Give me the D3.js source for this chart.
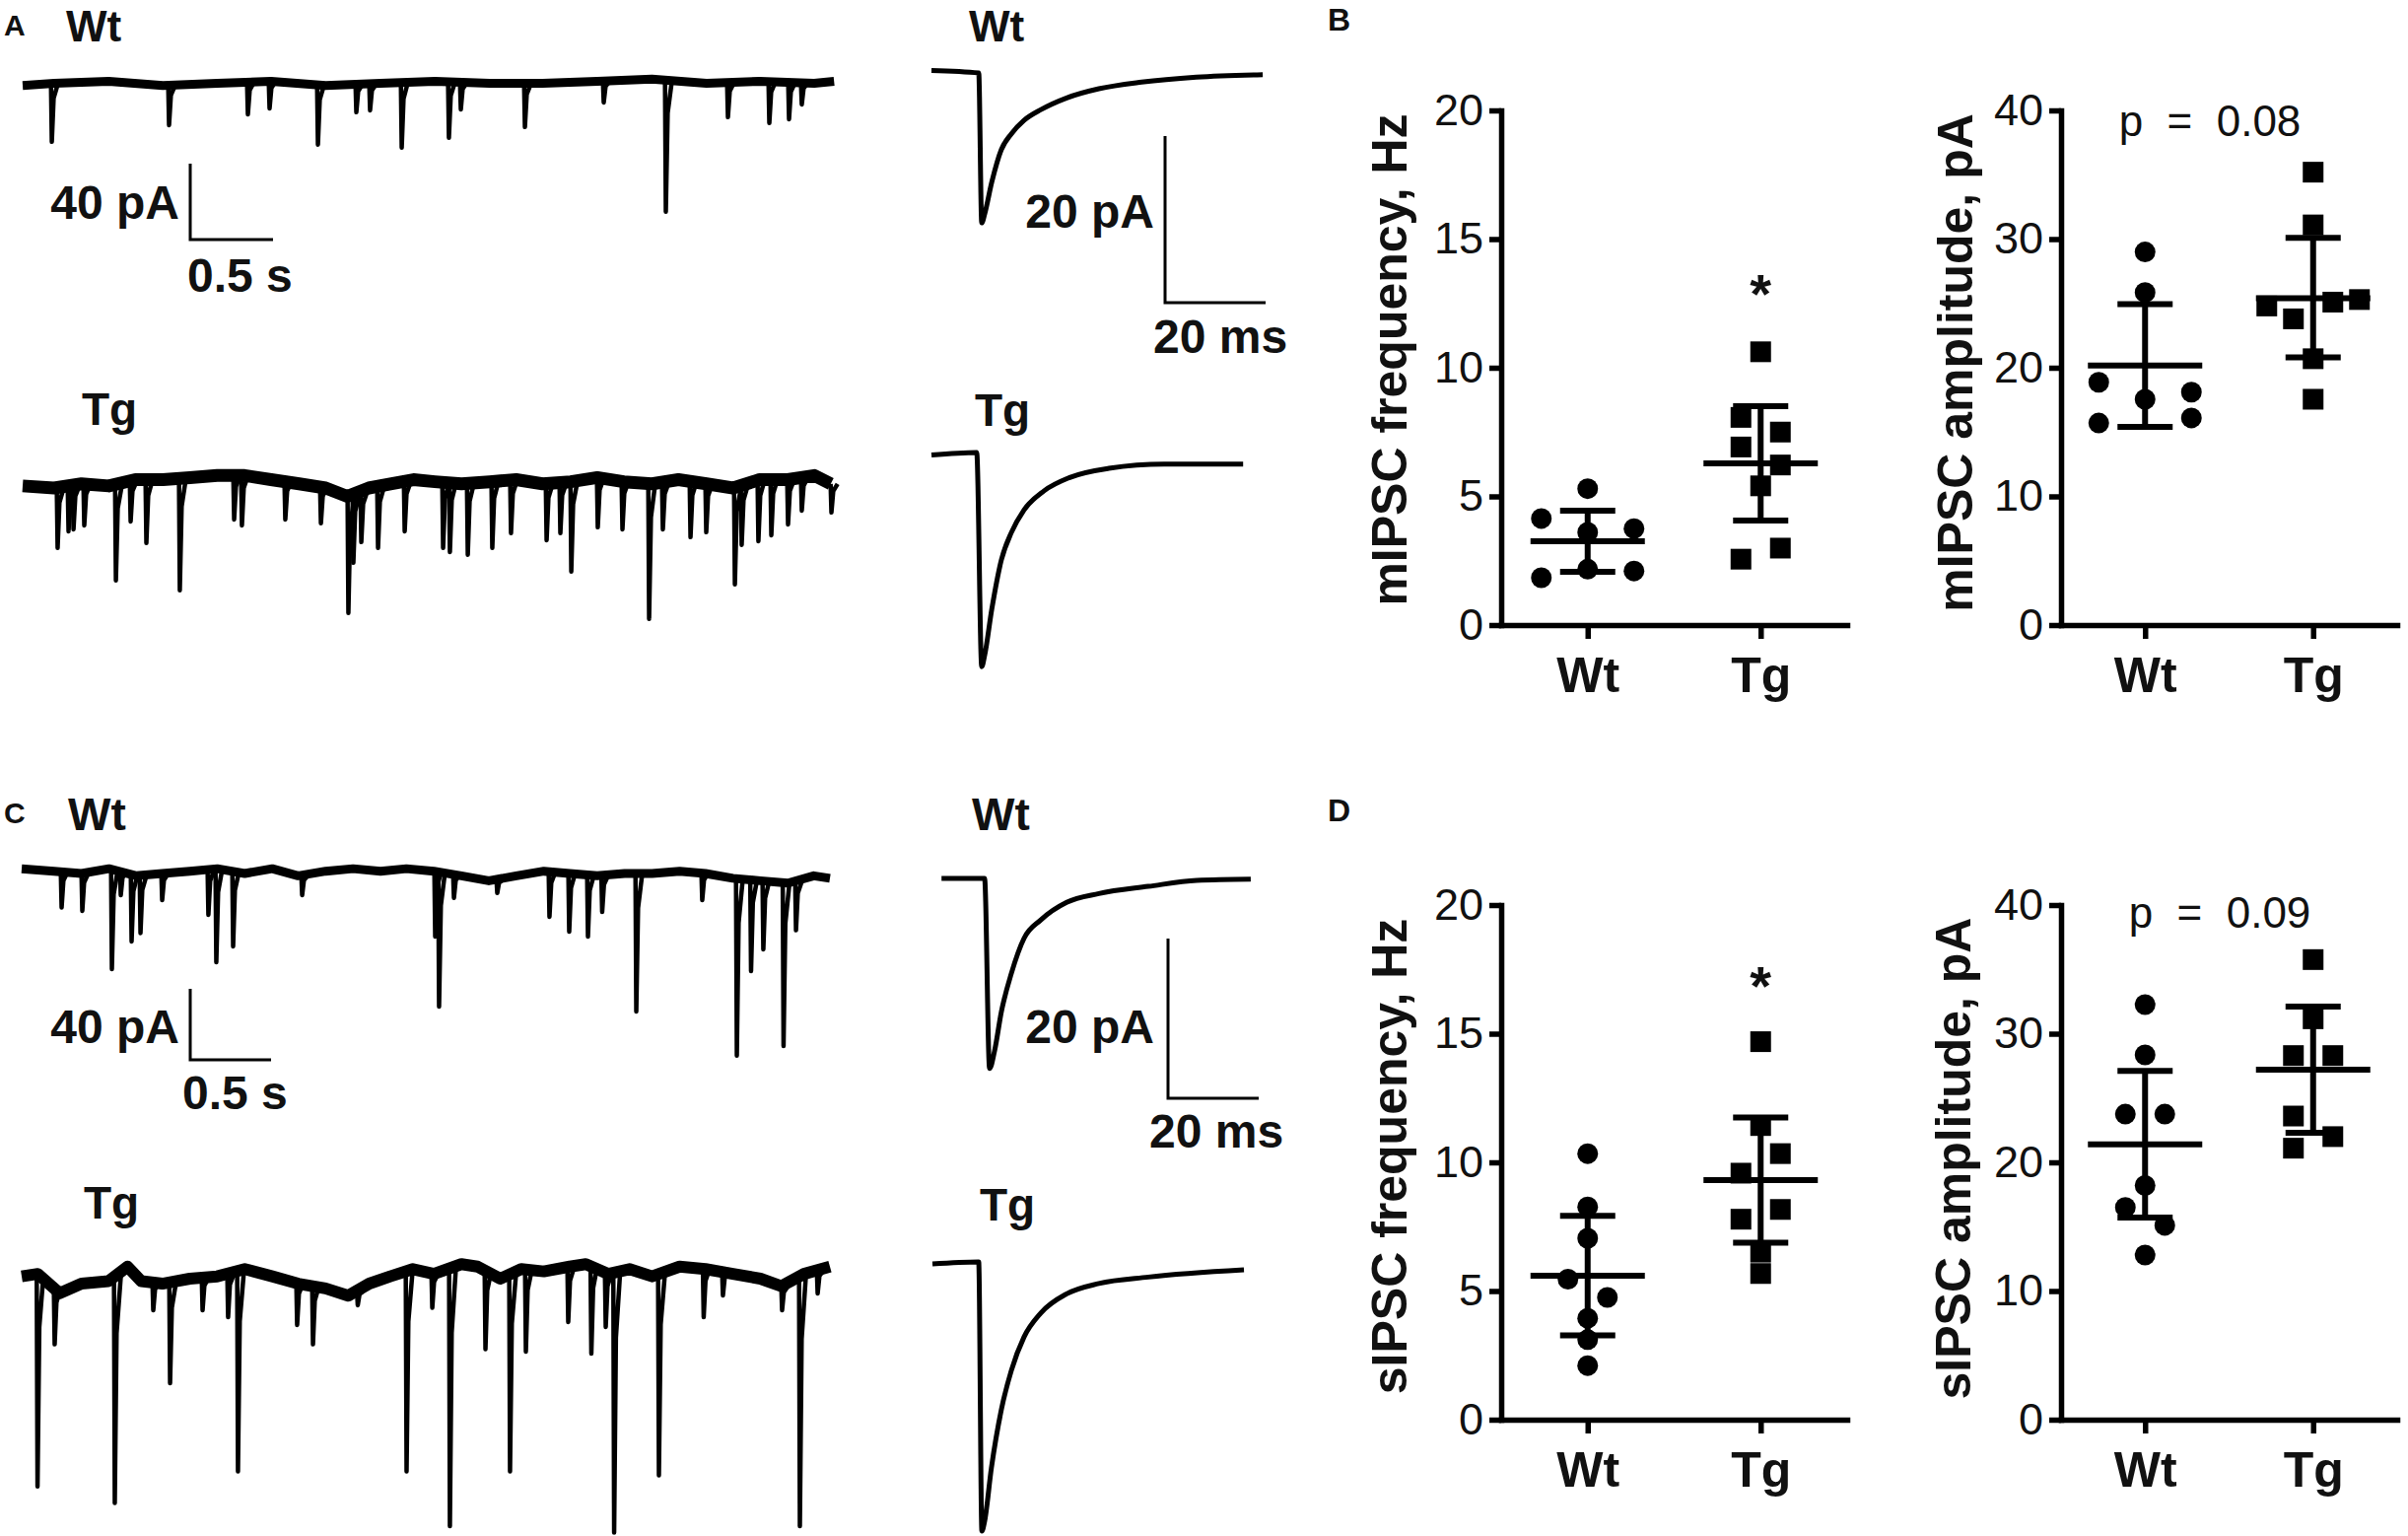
<!DOCTYPE html>
<html><head><meta charset="utf-8">
<script src="https://cdn.jsdelivr.net/npm/d3@7"></script>
<style>
body{margin:0;background:#fff;}
svg{display:block;}
text{font-family:"Liberation Sans",Arial,Helvetica,sans-serif;fill:#111;}
</style></head><body>
<svg id="fig" width="2443" height="1558"></svg>
<script>
// ---------------- DATA ----------------
const groups = ["Wt", "Tg"];
const freqTicks = [0, 5, 10, 15, 20];
const ampTicks = [0, 10, 20, 30, 40];

// B: mIPSC frequency (Hz)
const mFreqWt = [5.30, 4.14, 3.75, 3.60, 2.17, 2.10, 1.84];
const mFreqWtCol = [0, -2, 2, 0, 0, 2, -2];
const mFreqTg = [10.62, 8.07, 7.50, 6.92, 6.22, 5.41, 2.99, 2.56];
const mFreqTgCol = [0, -1, 1, -1, 1, 0, 1, -1];
const mFreqMean = [3.26, 6.28];
const mFreqLo = [2.07, 4.06];
const mFreqHi = [4.44, 8.51];

// B: mIPSC amplitude (pA)
const mAmpWt = [29.0, 25.85, 18.87, 18.1, 17.55, 16.1, 15.7];
const mAmpWtCol = [0, 0, -2, 2, 0, 2, -2];
const mAmpTg = [35.2, 31.1, 24.8, 23.8, 25.1, 25.3, 20.7, 17.55];
const mAmpTgCol = [0, 0, -2, -1, 1, 2, 0, 0];
const mAmpMean = [20.18, 25.4];
const mAmpLo = [15.4, 20.8];
const mAmpHi = [24.95, 30.1];

// D: sIPSC frequency (Hz)
const sFreqWt = [10.34, 8.27, 7.05, 5.46, 4.75, 3.94, 3.11, 2.10];
const sFreqWtCol = [0, 0, 0, -1, 1, 0, 0, 0];
const sFreqTg = [14.69, 11.43, 10.34, 9.58, 8.17, 7.79, 6.51, 5.68];
const sFreqTgCol = [0, 0, 1, -1, 1, -1, 0, 0];
const sFreqMean = [5.59, 9.31];
const sFreqLo = [3.28, 6.88];
const sFreqHi = [7.92, 11.74];

// D: sIPSC amplitude (pA)
const sAmpWt = [32.26, 28.35, 23.75, 23.75, 18.2, 16.5, 15.1, 12.8];
const sAmpWtCol = [0, 0, -1, 1, 0, -1, 1, 0];
const sAmpTg = [35.76, 31.16, 28.3, 28.3, 23.6, 22.0, 21.1];
const sAmpTgCol = [0, 0, -1, 1, -1, 1, -1];
const sAmpMean = [21.4, 27.2];
const sAmpLo = [15.7, 22.3];
const sAmpHi = [27.1, 32.1];

// Long recordings: baseline [s, pA] and events [s, peak pA]
const mWtBase = [[0,0],[0.19,1.1],[0.52,2.2],[0.847,0],[1.175,1.1],[1.50,2.2],[1.83,0],[2.16,1.1],[2.49,2.2],[2.82,1.1],[3.14,1.1],[3.47,2.2],[3.80,3.3],[4.13,1.1],[4.45,2.2],[4.78,1.1],[4.90,2.2]];
const mWtEvents = [[0.173,-29.7],[0.881,-20.9],[1.357,-15.2],[1.488,-12.1],[1.780,-31.2],[2.012,-14.1],[2.095,-13.1],[2.286,-32.8],[2.571,-27.6],[2.643,-12.6],[3.030,-21.9],[3.506,-9],[3.881,-66.5],[4.256,-16.7],[4.506,-19.8],[4.625,-17.8],[4.702,-10]];
const mTgBase = [[0,-1.5],[0.19,-2.6],[0.355,-0.4],[0.52,-1.5],[0.68,1.8],[0.847,1.8],[1.01,2.9],[1.175,4.0],[1.34,4.0],[1.50,1.8],[1.67,-0.4],[1.83,-2.6],[1.96,-7.0],[2.09,-2.6],[2.22,-0.4],[2.36,1.8],[2.49,0.7],[2.65,-0.4],[2.82,0.7],[2.98,1.8],[3.14,-0.4],[3.31,0.7],[3.47,2.9],[3.63,0.7],[3.80,-0.4],[3.96,1.8],[4.13,-0.4],[4.29,-2.6],[4.45,1.8],[4.62,1.8],[4.78,4.0],[4.88,-0.4]];
const mTgEvents = [[0.208,-34.2],[0.274,-25.4],[0.304,-24.4],[0.369,-22.3],[0.560,-51.3],[0.649,-20.2],[0.744,-31.6],[0.946,-56.5],[1.274,-19.2],[1.321,-22.3],[1.583,-19.2],[1.798,-21.2],[1.964,-68.4],[1.994,-42.0],[2.042,-31.1],[2.143,-34.2],[2.304,-25.4],[2.536,-34.2],[2.577,-36.3],[2.685,-37.8],[2.833,-34.2],[2.946,-26.4],[3.161,-30.1],[3.244,-26.4],[3.310,-46.6],[3.470,-23.3],[3.619,-24.4],[3.780,-71.5],[3.863,-24.4],[4.030,-28.5],[4.125,-25.9],[4.298,-53.4],[4.339,-32.6],[4.440,-30.6],[4.518,-27.5],[4.619,-21.8],[4.702,-14.5],[4.881,-15.5]];
const sWtBase = [[0,2.7],[0.2,1.3],[0.37,0],[0.54,2.7],[0.71,-1.3],[0.87,0],[1.04,1.3],[1.21,2.7],[1.38,0],[1.55,2.7],[1.71,-1.3],[1.88,1.3],[2.05,2.7],[2.22,1.3],[2.38,2.7],[2.55,1.3],[2.72,-1.3],[2.89,-4.1],[3.06,-1.3],[3.23,1.3],[3.39,0],[3.56,-1.3],[3.73,0],[3.90,0],[4.07,1.3],[4.23,0],[4.40,-2.7],[4.57,-4.1],[4.74,-5.4],[4.90,-1.3],[5.0,-2.7]];
const sWtEvents = [[0.244,-19.2],[0.372,-21.1],[0.555,-53.9],[0.610,-12.2],[0.677,-38.3],[0.732,-33.6],[0.866,-15.0],[1.152,-23.3],[1.201,-50.0],[1.305,-41.1],[1.732,-12.2],[2.555,-35.6],[2.579,-75.0],[2.671,-13.7],[2.939,-11.0],[3.262,-24.4],[3.384,-32.8],[3.500,-35.6],[3.588,-21.7],[3.799,-77.8],[4.207,-15.0],[4.421,-102.6],[4.509,-55.0],[4.585,-42.8],[4.710,-97.2],[4.787,-32.0]];
const sTgBase = [[0,1.3],[0.10,2.7],[0.235,-8.2],[0.37,-2.8],[0.537,-1.4],[0.655,6.8],[0.74,-1.4],[0.87,-2.8],[1.04,0],[1.21,1.3],[1.38,5.4],[1.55,1.3],[1.71,-2.8],[1.88,-5.5],[2.02,-9.6],[2.15,-2.8],[2.28,1.3],[2.42,5.4],[2.55,2.7],[2.72,8.2],[2.82,6.8],[2.96,0],[3.09,5.4],[3.23,4.1],[3.39,6.8],[3.49,8.2],[3.63,2.7],[3.76,5.4],[3.90,1.3],[4.07,6.8],[4.23,5.4],[4.40,2.7],[4.57,0],[4.70,-4.2],[4.84,2.7],[5.0,6.8]];
const sTgEvents = [[0.095,-117.1],[0.201,-37.0],[0.573,-126.4],[0.811,-17.8],[0.915,-58.9],[1.116,-17.8],[1.274,-21.7],[1.335,-108.6],[1.701,-26.1],[1.799,-37.0],[2.076,-15.0],[2.378,-108.6],[2.537,-16.4],[2.646,-139.4],[2.866,-39.7],[3.018,-108.6],[3.116,-41.1],[3.378,-24.4],[3.521,-42.2],[3.610,-27.2],[3.662,-143.1],[3.939,-110.8],[4.216,-21.7],[4.335,-9.4],[4.701,-17.8],[4.811,-139.4],[4.921,-8.3]];

// Averaged events [ms, pA]
const mAvgWt = [[0,0.3],[9.4,0],[10.0,-18.0],[10.6,-16.9],[12.0,-13.1],[13.9,-9.2],[15.9,-7.3],[18.4,-5.7],[21.8,-4.4],[26.9,-3.0],[33.3,-1.9],[41.8,-1.1],[52.7,-0.5],[65.9,-0.2]];
const mAvgTg = [[0,-0.3],[9.0,0],[10.0,-25.7],[10.6,-24.3],[12.0,-18.8],[13.9,-12.9],[15.9,-9.6],[18.4,-6.9],[22.4,-4.6],[27.5,-3.0],[35.3,-1.9],[46.3,-1.4],[62.0,-1.4]];
const sAvgWt = [[2.0,0],[11.5,0],[12.6,-23.8],[13.7,-21.6],[15.2,-16.7],[17.4,-11.9],[20.2,-7.5],[23.9,-5.2],[29.6,-3.0],[36.7,-1.9],[47.6,-1.0],[58.3,-0.25],[70.2,-0.1]];
const sAvgTg = [[0,-0.25],[10.2,0],[10.9,-33.7],[11.5,-32.5],[13.0,-25.8],[15.2,-18.5],[17.4,-13.6],[20.2,-9.4],[23.9,-6.4],[29.6,-4.0],[36.7,-2.7],[47.6,-1.9],[68.7,-1.0]];

// ---------------- DRAWING ----------------
const svg = d3.select("#fig");
const colOffset = d3.scaleOrdinal().domain([-2, -1, 0, 1, 2]).range([-47, -20, 0, 20, 47]);

function txt(x, y, s, size, weight, anchor) {
  return svg.append("text").attr("x", x).attr("y", y).text(s)
    .attr("font-size", size).attr("font-weight", weight || "bold")
    .attr("text-anchor", anchor || "start").style("white-space", "pre");
}

function scatterPanel(c) {
  const y = d3.scaleLinear().domain([0, c.max]).range([c.yBot, c.yTop]);
  const x = d3.scalePoint().domain(groups).range([c.x0, c.x1]).padding(0.5);
  const g = svg.append("g");
  const gy = g.append("g").attr("transform", `translate(${c.x0},0)`)
    .call(d3.axisLeft(y).tickValues(c.ticks).tickSize(12).tickSizeOuter(0).tickPadding(6));
  const gx = g.append("g").attr("transform", `translate(0,${c.yBot})`)
    .call(d3.axisBottom(x).tickSize(14).tickSizeOuter(0));
  [gy, gx].forEach(a => {
    a.select(".domain").attr("stroke", "#000").attr("stroke-width", 5.5).attr("stroke-linecap", "square");
    a.selectAll(".tick line").attr("stroke", "#000").attr("stroke-width", 5.5);
  });
  gy.selectAll(".tick text").attr("font-size", 45).attr("font-family", "Liberation Sans, Arial, sans-serif").attr("fill", "#222");
  gx.selectAll(".tick text").attr("font-size", 50).attr("font-weight", "bold").attr("font-family", "Liberation Sans, Arial, sans-serif")
    .attr("fill", "#111").attr("y", 68).attr("dy", 0);
  g.append("text").attr("transform", `translate(${c.labelX},${c.labelY}) rotate(-90)`)
    .attr("text-anchor", "middle").attr("font-size", 50).attr("font-weight", "bold").text(c.label);
  g.selectAll("circle.pt").data(c.wt.map((v, i) => [v, c.wtCol[i]])).enter().append("circle")
    .attr("cx", d => x("Wt") + colOffset(d[1])).attr("cy", d => y(d[0])).attr("r", 10.5).attr("fill", "#000");
  g.selectAll("rect.pt").data(c.tg.map((v, i) => [v, c.tgCol[i]])).enter().append("rect")
    .attr("x", d => x("Tg") + colOffset(d[1]) - 10.5).attr("y", d => y(d[0]) - 10.5)
    .attr("width", 21).attr("height", 21).attr("fill", "#000");
  groups.forEach((gname, i) => {
    const cx = x(gname);
    const ln = (x1, y1, x2, y2) => g.append("line").attr("x1", x1).attr("y1", y1).attr("x2", x2).attr("y2", y2)
      .attr("stroke", "#000").attr("stroke-width", 6);
    ln(cx, y(c.lo[i]), cx, y(c.hi[i]));
    ln(cx - 28, y(c.lo[i]), cx + 28, y(c.lo[i]));
    ln(cx - 28, y(c.hi[i]), cx + 28, y(c.hi[i]));
    ln(cx - 58, y(c.mean[i]), cx + 58, y(c.mean[i]));
  });
  if (c.star) txt(x("Tg"), c.starY, "*", 56, "bold", "middle");
  if (c.note) txt(c.noteX, c.noteY, c.note, 44, "normal", "middle").attr("fill", "#222");
}

scatterPanel({x0: 1523, x1: 1874, yTop: 112, yBot: 634, max: 20, ticks: freqTicks,
  label: "mIPSC frequency, Hz", labelX: 1427, labelY: 365,
  wt: mFreqWt, wtCol: mFreqWtCol, tg: mFreqTg, tgCol: mFreqTgCol,
  mean: mFreqMean, lo: mFreqLo, hi: mFreqHi, star: true, starY: 317});
scatterPanel({x0: 2091, x1: 2432, yTop: 112, yBot: 634, max: 40, ticks: ampTicks,
  label: "mIPSC amplitude, pA", labelX: 2001, labelY: 368,
  wt: mAmpWt, wtCol: mAmpWtCol, tg: mAmpTg, tgCol: mAmpTgCol,
  mean: mAmpMean, lo: mAmpLo, hi: mAmpHi, note: "p  =  0.08", noteX: 2242, noteY: 138});
scatterPanel({x0: 1523, x1: 1874, yTop: 918, yBot: 1440, max: 20, ticks: freqTicks,
  label: "sIPSC frequency, Hz", labelX: 1427, labelY: 1173,
  wt: sFreqWt, wtCol: sFreqWtCol, tg: sFreqTg, tgCol: sFreqTgCol,
  mean: sFreqMean, lo: sFreqLo, hi: sFreqHi, star: true, starY: 1019});
scatterPanel({x0: 2091, x1: 2432, yTop: 918, yBot: 1440, max: 40, ticks: ampTicks,
  label: "sIPSC amplitude, pA", labelX: 1999, labelY: 1175,
  wt: sAmpWt, wtCol: sAmpWtCol, tg: sAmpTg, tgCol: sAmpTgCol,
  mean: sAmpMean, lo: sAmpLo, hi: sAmpHi, note: "p  =  0.09", noteX: 2252, noteY: 941});

// long traces
function longTrace(c) {
  const x = d3.scaleLinear().domain([0, 1]).range([c.x0, c.x0 + c.pxPerS]);
  const y = d3.scaleLinear().domain([0, -1]).range([c.yBase, c.yBase + c.pxPerPA]);
  const base = d3.scaleLinear().domain(c.base.map(d => d[0])).range(c.base.map(d => d[1]));
  const line = d3.line().x(d => x(d[0])).y(d => y(d[1]));
  svg.append("path").datum(c.base).attr("d", line)
    .attr("fill", "none").attr("stroke", "#000").attr("stroke-width", c.band).attr("stroke-linejoin", "round");
  c.events.forEach(([t, a]) => {
    const b = base(t);
    const pts = [[t - 0.002, b], [t + 0.003, a], [t + 0.014, b + (a - b) * 0.25], [t + 0.04, b]];
    svg.append("path").datum(pts).attr("d", line).attr("fill", "none").attr("stroke", "#000")
      .attr("stroke-width", 4.5).attr("stroke-linejoin", "round");
  });
  return {x, y};
}
function scaleBar(sc, ox, oy, amp, dur) {
  const h = sc.y(-amp) - sc.y(0);
  const w = sc.x(dur) - sc.x(0);
  svg.append("path").attr("d", `M${ox},${oy - h}V${oy}H${ox + w}`).attr("fill", "none")
    .attr("stroke", "#000").attr("stroke-width", 3);
}

const aWt = longTrace({x0: 23, yBase: 86.7, pxPerS: 168, pxPerPA: 1.925, base: mWtBase, events: mWtEvents, band: 9});
longTrace({x0: 23, yBase: 490, pxPerS: 168, pxPerPA: 1.925, base: mTgBase, events: mTgEvents, band: 13});
const cWt = longTrace({x0: 22, yBase: 886, pxPerS: 164, pxPerPA: 1.8, base: sWtBase, events: sWtEvents, band: 9});
longTrace({x0: 22, yBase: 1297, pxPerS: 164, pxPerPA: 1.8, base: sTgBase, events: sTgEvents, band: 12});
scaleBar(aWt, 193, 243, 40, 0.5);
scaleBar(cWt, 193, 1075, 40, 0.5);

// averaged traces
function avgTrace(data, x0, yBase, pxPerMs, pxPerPA) {
  const x = d3.scaleLinear().domain([0, 1]).range([x0, x0 + pxPerMs]);
  const y = d3.scaleLinear().domain([0, -1]).range([yBase, yBase + pxPerPA]);
  svg.append("path").datum(data).attr("d", d3.line().x(d => x(d[0])).y(d => y(d[1])).curve(d3.curveMonotoneX))
    .attr("fill", "none").attr("stroke", "#000").attr("stroke-width", 5).attr("stroke-linejoin", "round");
  return {x, y};
}
const avA = avgTrace(mAvgWt, 945, 74, 5.1, 8.45);
avgTrace(mAvgTg, 945, 459, 5.1, 8.45);
const avC = avgTrace(sAvgWt, 946, 891, 4.6, 8.1);
avgTrace(sAvgTg, 946, 1280, 4.6, 8.1);
scaleBar(avA, 1182, 307, 20, 20);
scaleBar(avC, 1185, 1114, 20, 20);

// text labels
txt(4, 36, "A", 30); txt(1347, 31, "B", 32); txt(4, 835, "C", 30); txt(1347, 833, "D", 32);
txt(67, 42, "Wt", 44); txt(83, 431, "Tg", 46);
txt(983, 42, "Wt", 44); txt(989, 432, "Tg", 46);
txt(69, 842, "Wt", 46); txt(85, 1236, "Tg", 46);
txt(986, 842, "Wt", 46); txt(994, 1238, "Tg", 46);
txt(182, 222, "40 pA", 48, "bold", "end"); txt(190, 296, "0.5 s", 48);
txt(182, 1058, "40 pA", 48, "bold", "end"); txt(185, 1125, "0.5 s", 48);
txt(1171, 231, "20 pA", 48, "bold", "end"); txt(1170, 358, "20 ms", 48);
txt(1171, 1058, "20 pA", 48, "bold", "end"); txt(1166, 1164, "20 ms", 48);
</script>
</body></html>
